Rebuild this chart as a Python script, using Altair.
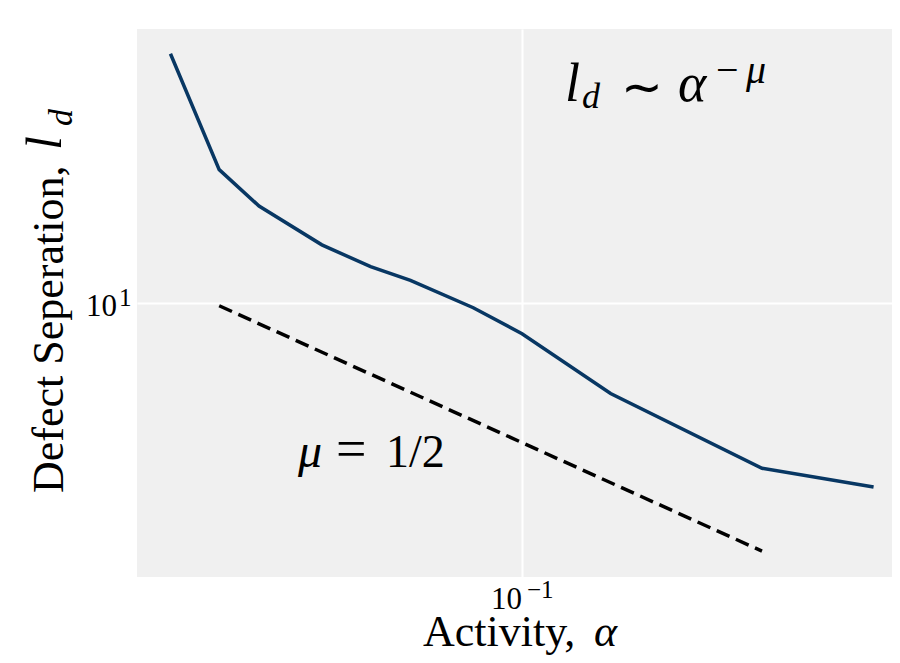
import altair as alt
import pandas as pd

# ---- data ----
alpha = [0.02, 0.025, 0.03, 0.04, 0.05, 0.06, 0.08, 0.1, 0.15, 0.3, 0.5]
ld = [35.2, 19.6, 16.3, 13.4, 12.0, 11.2, 9.75, 8.55, 6.32, 4.33, 3.94]

guide_alpha = [0.025, 0.3]
guide_ld = [9.85, 2.85]

x_domain = [0.01716, 0.5440]
y_domain = [2.50, 39.9]
x_tick = 0.1
y_tick = 10

W, H = 755, 548
SERIF = "Liberation Serif"

curve_df = pd.DataFrame({"alpha": alpha, "ld": ld})
guide_df = pd.DataFrame({"alpha": guide_alpha, "ld": guide_ld})

xscale = alt.Scale(type="log", domain=x_domain, nice=False, zero=False)
yscale = alt.Scale(type="log", domain=y_domain, nice=False, zero=False)

xaxis = alt.Axis(values=[x_tick], labels=False, grid=True, gridColor="white",
                 gridWidth=2, domain=False, ticks=False, title=None)
yaxis = alt.Axis(values=[y_tick], labels=False, grid=True, gridColor="white",
                 gridWidth=2, domain=False, ticks=False, title=None)

curve = alt.Chart(curve_df).mark_line(color="#083763", strokeWidth=3.5).encode(
    x=alt.X("alpha:Q", scale=xscale, axis=xaxis),
    y=alt.Y("ld:Q", scale=yscale, axis=yaxis),
)

guide = alt.Chart(guide_df).mark_line(color="black", strokeWidth=3.5,
                                      strokeDash=[14, 7]).encode(
    x=alt.X("alpha:Q", scale=xscale),
    y=alt.Y("ld:Q", scale=yscale),
)

one = pd.DataFrame({"k": [0]})


def txt(s, x, y, size, italic=False, angle=0, font=SERIF, align="left", dx=0, dy=0):
    kw = dict(align=align, baseline="alphabetic", font=font, fontSize=size,
              color="black")
    if italic:
        kw["fontStyle"] = "italic"
    if angle:
        kw["angle"] = angle
    if dx:
        kw["dx"] = dx
    if dy:
        kw["dy"] = dy
    return alt.Chart(one).mark_text(**kw).encode(x=x, y=y, text=alt.value(s))


v = alt.value
texts = [
    # tick labels, anchored at the tick values
    txt("10", alt.datum(x_tick), v(580), 31, align="right"),
    txt("−1", alt.datum(x_tick), v(569), 25, dx=5),
    txt("10", v(-20), alt.datum(y_tick), 31, align="right", dy=13),
    txt("1", v(-18), alt.datum(y_tick), 25, dy=3),
    # y title
    txt("Defect Seperation,", v(-74), v(464), 44, angle=270),
    txt("l", v(-76), v(121), 50, italic=True, angle=270),
    txt("d", v(-65), v(97), 34, italic=True, angle=270),
    # x title
    txt("Activity,", v(286), v(617), 44),
    txt("α", v(457), v(617), 44, italic=True),
    # power-law annotation
    txt("l", v(428), v(72), 54, italic=True),
    txt("d", v(445), v(79), 36, italic=True),
    txt("∼", v(484), v(75), 50, font="DejaVu Sans"),
    txt("α", v(541), v(72), 54, italic=True),
    txt("−", v(579), v(54), 40),
    txt("μ", v(609), v(54), 40, italic=True),
    # slope annotation
    txt("μ", v(161), v(438), 48, italic=True),
    txt("=", v(199), v(438), 54),
    txt("1/2", v(249), v(438), 46),
]

chart = alt.layer(curve, guide, *texts).properties(
    width=W, height=H,
    autosize=alt.AutoSizeParams(type="none"),
    padding={"left": 129, "top": 21, "right": 0, "bottom": 78},
).configure_view(fill="#f0f0f0", strokeWidth=0)

chart.save("out.html", embed_options={"renderer": "svg", "actions": False})
